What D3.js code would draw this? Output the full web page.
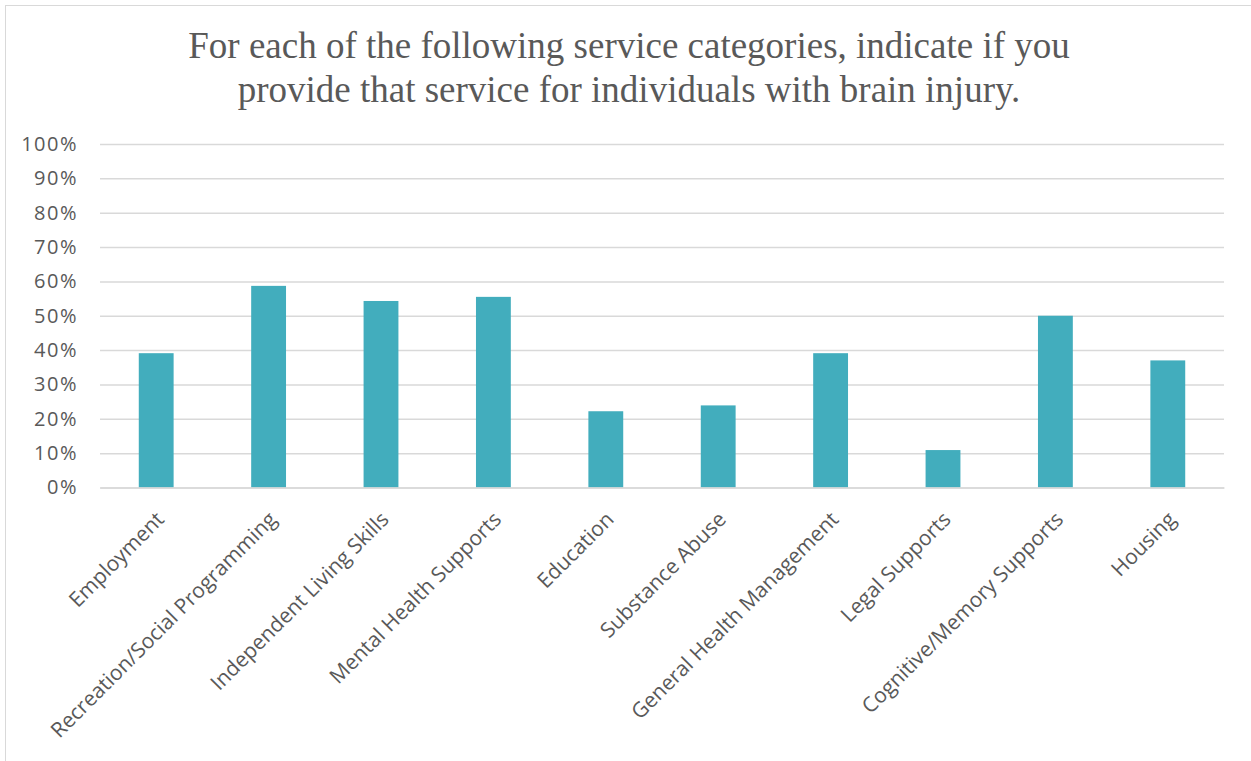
<!DOCTYPE html>
<html>
<head>
<meta charset="utf-8">
<script src="https://cdn.jsdelivr.net/npm/d3@7"></script>
<style>
  html, body { margin: 0; padding: 0; background: #fff; }
  svg { display: block; }
</style>
</head>
<body>
<svg id="chart" width="1251" height="761"></svg>
<script>
// Service categories and share of respondents providing each service
const categories = [
  "Employment",
  "Recreation/Social Programming",
  "Independent Living Skills",
  "Mental Health Supports",
  "Education",
  "Substance Abuse",
  "General Health Management",
  "Legal Supports",
  "Cognitive/Memory Supports",
  "Housing"
];
const values = [0.391, 0.587, 0.543, 0.555, 0.222, 0.239, 0.391, 0.109, 0.500, 0.370];
const yTicks = [0, 0.1, 0.2, 0.3, 0.4, 0.5, 0.6, 0.7, 0.8, 0.9, 1.0];
const titleLines = [
  "For each of the following service categories, indicate if you",
  "provide that service for individuals with brain injury."
];

const svg = d3.select("#chart");
const W = 1251, H = 761;
const margin = { left: 100, right: 27, top: 144, bottom: 273 };

// Chart-area frame
svg.append("rect")
  .attr("x", 5.5).attr("y", 5.5)
  .attr("width", W + 10).attr("height", H + 10)
  .attr("fill", "#fff")
  .attr("stroke", "#d9d9d9")
  .attr("stroke-width", 1);

// Title
const title = svg.append("text")
  .attr("text-anchor", "middle")
  .attr("font-family", "'Liberation Serif', 'Times New Roman', serif")
  .attr("font-size", 37)
  .attr("fill", "#595959");
titleLines.forEach((t, i) => {
  title.append("tspan").attr("x", 629).attr("y", 58 + i * 44).text(t);
});

const x = d3.scaleBand()
  .domain(categories)
  .range([margin.left, W - margin.right])
  .paddingInner(0.69)
  .paddingOuter(0.345);

const y = d3.scaleLinear()
  .domain([0, 1])
  .range([H - margin.bottom - 0.5, margin.top]);

// Gridlines + y labels
const yAxis = d3.axisLeft(y)
  .tickValues(yTicks)
  .tickFormat(d3.format(".0%"))
  .tickSize(-(W - margin.right - margin.left))
  .tickPadding(22);

const gy = svg.append("g")
  .attr("transform", `translate(${margin.left},0)`)
  .call(yAxis);
gy.select(".domain").remove();
gy.selectAll(".tick line")
  .attr("stroke", "#d9d9d9")
  .attr("stroke-width", 1.5);
gy.selectAll(".tick text")
  .attr("font-family", "'Open Sans', 'Noto Sans', sans-serif")
  .attr("font-size", 20)
  .attr("letter-spacing", 1.5)
  .attr("fill", "#595959");

// Bars
svg.append("g")
  .selectAll("rect")
  .data(categories)
  .join("rect")
  .attr("x", d => x(d))
  .attr("width", x.bandwidth())
  .attr("y", (d, i) => y(values[i]))
  .attr("height", (d, i) => y(0) - y(values[i]))
  .attr("fill", "#42adbd");

// Category axis
const xAxis = d3.axisBottom(x).tickSize(0).tickPadding(0);
const gx = svg.append("g")
  .attr("transform", `translate(0,${y(0)})`)
  .call(xAxis);
gx.select(".domain")
  .attr("stroke", "#d9d9d9")
  .attr("stroke-width", 1.5);
gx.selectAll(".tick text")
  .attr("font-family", "'Open Sans', 'Noto Sans', sans-serif")
  .attr("font-size", 21)
  .attr("fill", "#595959")
  .attr("text-anchor", "end")
  .attr("dy", "0.35em")
  .attr("y", 0)
  .attr("transform", "translate(4,28) rotate(-45)");
</script>
</body>
</html>
